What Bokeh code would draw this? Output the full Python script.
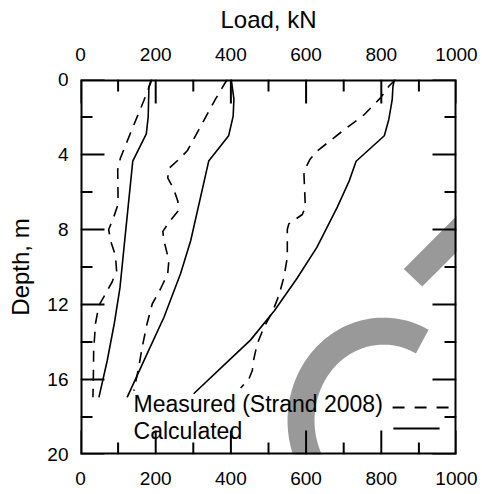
import numpy as np
from bokeh.plotting import figure
from bokeh.models import Range1d, LinearAxis, FixedTicker
from bokeh.embed import file_html
from bokeh.resources import INLINE
from bokeh.core.properties import value

# ---- data ----
load_ticks = [0, 200, 400, 600, 800, 1000]
load_minor = [100, 300, 500, 700, 900]
depth_ticks = [0, 4, 8, 12, 16, 20]
depth_minor = [2, 6, 10, 14, 18]

calc1_depth = [0, 0.4, 2.0, 2.9, 4.35, 9.1, 11.1, 13.0, 15.0, 16.95]
calc1_load = [188, 182, 180, 175, 139, 115, 105, 90, 71, 49]

meas1_depth = [0, 1.15, 2.85, 4.2, 4.8, 6.65, 7.3, 8.0, 8.6, 9.4, 10.2, 10.8, 11.45, 12.05, 13.0, 14.45, 16.2, 16.95]
meas1_load = [190, 168, 133, 106, 99, 100, 89, 75, 80, 93, 96, 84, 66, 49, 40, 35, 34, 33]

calc2_depth = [0, 1.05, 1.95, 3.0, 4.35, 8.6, 10.36, 12.68, 14.63, 16.95]
calc2_load = [401, 408, 406, 394, 341, 293, 266, 222, 177, 124]

meas2_depth = [0, 1.05, 3.8, 4.25, 4.75, 5.25, 5.85, 6.5, 7.0, 7.55, 8.1, 8.6, 9.65, 10.36, 11.16, 11.96, 13.03, 14.28, 15.34, 16.6]
meas2_load = [390, 359, 284, 262, 235, 232, 248, 259, 260, 238, 219, 222, 235, 232, 213, 191, 177, 164, 155, 142]

calc3_depth = [0, 0.36, 1.07, 2.13, 3.0, 4.36, 5.39, 6.81, 8.94, 10.6, 12.32, 13.9, 14.9, 16.76]
calc3_load = [835, 831, 829, 820, 808, 733, 715, 683, 629, 576, 516, 452, 399, 301]

meas3_depth = [0, 0.36, 0.98, 1.87, 2.84, 3.82, 4.27, 4.89, 6.8, 7.2, 7.7, 8.0, 9.5, 10.54, 11.5, 12.41, 13.21, 14.1, 14.9, 15.52, 15.96, 16.45]
meas3_load = [838, 820, 798, 755, 691, 629, 610, 594, 598, 590, 554, 550, 550, 541, 528, 510, 488, 470, 461, 457, 448, 426]

legend_labels = ["Measured (Strand 2008)", "Calculated"]

W, H = 482, 494
BL, BT, BR, BB = 80, 79, 26, 40
XMAX, YMAX = 1000, 20

p = figure(width=W, height=H, output_backend="svg", toolbar_location=None,
           x_range=Range1d(0, XMAX), y_range=Range1d(YMAX, 0),
           x_axis_location="above", y_axis_location="left",
           x_axis_label="Load, kN", y_axis_label="Depth, m",
           min_border_left=BL, min_border_top=BT, min_border_right=BR, min_border_bottom=BB)
p.grid.visible = False
p.outline_line_color = None

kx = XMAX / (W - BL - BR)
ky = YMAX / (H - BT - BB)
MAJ, MIN_ = 24, 12

# ---- watermark (grey background shapes) ----
wm = "#999999"
bar_x = [859.8, 908.8, 1190.0, 1141.0]
bar_y = [10.10, 11.04, 5.39, 4.45]
p.patch(bar_x, bar_y, fill_color=wm, line_color=None)

th = np.radians(np.linspace(62, 250, 120))
cx, cy = 805.9, 18.19
ox, oy = cx + 255.3 * np.cos(th), cy - 5.49 * np.sin(th)
ix, iy = cx + 183.5 * np.cos(th[::-1]), cy - 4.05 * np.sin(th[::-1])
p.patch(np.concatenate([ox, ix]), np.concatenate([oy, iy]), fill_color=wm, line_color=None)

# ---- curves ----
lw = 1.6
dash = "11 8"
for ld, dp in [(meas1_load, meas1_depth), (meas2_load, meas2_depth), (meas3_load, meas3_depth)]:
    p.line(ld, dp, line_color="black", line_width=lw, line_dash=dash)
for ld, dp in [(calc1_load, calc1_depth), (calc2_load, calc2_depth), (calc3_load, calc3_depth)]:
    p.line(ld, dp, line_color="black", line_width=lw)

# ---- inward ticks from the tick lists, and the frame ----
tx, ty = [], []
for ts, L in [(load_ticks, MAJ), (load_minor, MIN_)]:
    for t in ts:
        tx += [t, t, np.nan, t, t, np.nan]
        ty += [0, L * ky, np.nan, YMAX, YMAX - L * ky, np.nan]
for ts, L in [(depth_ticks, MAJ), (depth_minor, MIN_)]:
    for t in ts:
        tx += [0, L * kx, np.nan, XMAX, XMAX - L * kx, np.nan]
        ty += [t, t, np.nan, t, t, np.nan]
p.line(tx, ty, line_color="black", line_width=2)
p.line([0, XMAX, XMAX, 0, 0], [0, 0, YMAX, YMAX, 0], line_color="black", line_width=4)

# ---- legend (manual: text left, sample on right) ----
p.text(x=[141, 141], y=[17.32, 18.74], text=legend_labels,
       text_font=value("Liberation Sans"), text_font_size="23px", text_color="black",
       text_align="left", text_baseline="alphabetic")
p.line([830, 984], [17.49, 17.49], line_color="black", line_width=2, line_dash="12 10")
p.line([832, 955], [18.61, 18.61], line_color="black", line_width=2)

# ---- axes (labels only) ----
def style(ax):
    ax.axis_line_color = None
    ax.major_tick_in = 0
    ax.major_tick_out = 0
    ax.minor_tick_in = 0
    ax.minor_tick_out = 0
    ax.major_tick_line_color = None
    ax.minor_tick_line_color = None
    ax.major_label_text_font_size = "19px"
    ax.major_label_text_color = "black"
    ax.axis_label_text_font_size = "24px"
    ax.axis_label_text_font_style = "normal"
    ax.axis_label_text_color = "black"

top = p.above[0]
style(top)
top.ticker = FixedTicker(ticks=load_ticks)
top.major_label_standoff = 19
top.axis_label_standoff = 12

left = p.left[0]
style(left)
left.ticker = FixedTicker(ticks=depth_ticks)
left.major_label_standoff = 12
left.axis_label_standoff = 10

bottom = LinearAxis(ticker=FixedTicker(ticks=load_ticks))
style(bottom)
bottom.major_label_standoff = 17
p.add_layout(bottom, "below")

open("out.html", "w").write(file_html(p, INLINE))
